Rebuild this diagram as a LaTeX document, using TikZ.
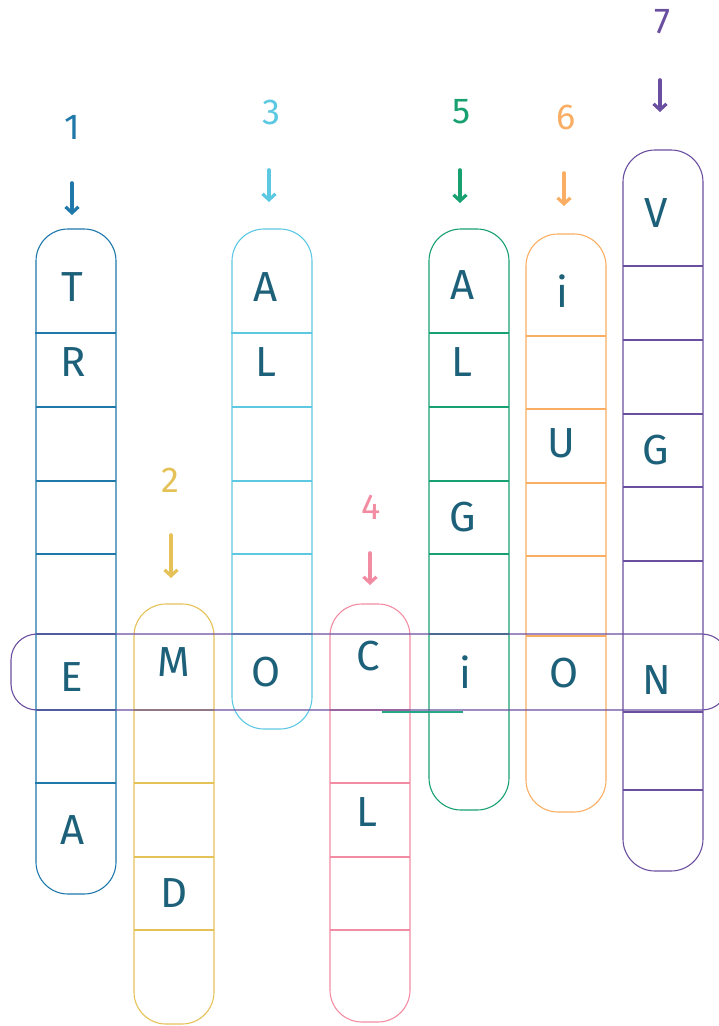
\documentclass[tikz,border=0pt]{standalone}
\usepackage{fontspec}
\newfontfamily\handfont{Fira Sans}
\usepackage{xcolor}
\definecolor{ColBlue}{HTML}{1F78AA}
\definecolor{ColYellow}{HTML}{E5C257}
\definecolor{ColCyan}{HTML}{5CC8E2}
\definecolor{ColPink}{HTML}{F28CA2}
\definecolor{ColGreen}{HTML}{17A070}
\definecolor{ColOrange}{HTML}{F9AE63}
\definecolor{ColPurple}{HTML}{6A4FA0}
\definecolor{LetterTeal}{HTML}{1D6079}
\usetikzlibrary{arrows.meta}

\begin{document}
\begin{tikzpicture}[
    x=1pt, y=-1pt,
    column/.style={draw=#1, line width=1.1pt, rounded corners=32pt,
                   minimum width=80pt, inner sep=0pt},
    cell/.style={draw=#1, line width=1.1pt},
    letter/.style={text=LetterTeal, font=\handfont\fontsize{42}{46}\selectfont},
    num/.style={text=#1, font=\handfont\fontsize{36}{40}\selectfont},
    arr/.style={draw=#1, line width=3.6pt, line cap=round,
                -{Straight Barb[length=6pt, width=13pt, line width=3.2pt]}}
  ]
    \useasboundingbox (0,0) rectangle (718,1026);

    % columns
    \node[column=ColBlue, minimum height=665pt] (col1) at (76,561.5) {};
    \node[column=ColYellow, minimum height=420pt] (col2) at (174,814) {};
    \node[column=ColCyan, minimum height=500pt] (col3) at (272,479) {};
    \node[column=ColPink, minimum height=418pt] (col4) at (370,813) {};
    \node[column=ColGreen, minimum height=581pt] (col5) at (469,519.5) {};
    \node[column=ColOrange, minimum height=578pt] (col6) at (566,523) {};
    \node[column=ColPurple, minimum height=721pt] (col7) at (663,510.5) {};

    % cell dividers
    \draw[cell=ColBlue] (35,333) -- ++(81,0) (36,407) -- ++(80,0) (36,481) -- ++(80,0)
      (36,554) -- ++(80,0) (36,634) -- ++(80,0) (36,710) -- ++(80,0) (35,783) -- ++(81,0);
    \draw[cell=ColYellow] (134,710) -- ++(80,0) (134,783) -- ++(80,0)
      (134,857) -- ++(80,0) (134,930) -- ++(80,0);
    \draw[cell=ColCyan] (231,333) -- ++(81,0) (232,407) -- ++(80,0) (232,481) -- ++(80,0)
      (232,554) -- ++(80,0) (232,634) -- ++(80,0);
    \draw[cell=ColPink] (330,710) -- ++(80,0) (330,783) -- ++(80,0)
      (330,857) -- ++(80,0) (330,930) -- ++(80,0);
    \draw[cell=ColGreen] (429,333) -- ++(80,0) (429,407) -- ++(80,0) (429,481) -- ++(80,0)
      (429,554) -- ++(80,0) (429,634) -- ++(80,0);
    \draw[cell=ColOrange] (526,336) -- ++(80,0) (526,409) -- ++(80,0) (526,483) -- ++(80,0)
      (526,556) -- ++(80,0) (526,636) -- ++(80,0);
    \draw[cell=ColPurple] (623,266) -- ++(80,0) (623,340) -- ++(80,0) (623,414) -- ++(80,0)
      (623,487) -- ++(80,0) (623,561) -- ++(80,0) (623,712) -- ++(80,0) (623,790) -- ++(80,0);

    % across word
    \node[column=ColPurple, rounded corners=26pt, minimum width=717pt,
          minimum height=76pt] (across) at (369.5,672) {};
    \draw[cell=ColGreen!80!ColCyan] (382,712) -- ++(81,0);

    % letters
    \node[letter] (c1a) at (72,287) {T};
    \node[letter] (c1b) at (73,362) {R};
    \node[letter] (c1c) at (72,677) {E};
    \node[letter] (c1d) at (73,830) {A};
    \node[letter] (c2a) at (174,662) {M};
    \node[letter] (c2b) at (174,893) {D};
    \node[letter] (c3a) at (266,287) {A};
    \node[letter] (c3b) at (266,362) {L};
    \node[letter] (c3c) at (266,672) {O};
    \node[letter] (c4a) at (368,656) {C};
    \node[letter] (c4b) at (367,812) {L};
    \node[letter] (c5a) at (463,285) {A};
    \node[letter] (c5b) at (462,362) {L};
    \node[letter] (c5c) at (463,517) {G};
    \node[letter] (c5d) at (465,672) {i};
    \node[letter] (c6a) at (562,291) {i};
    \node[letter] (c6b) at (561,443) {U};
    \node[letter] (c6c) at (564,673) {O};
    \node[letter] (c7a) at (656,213) {V};
    \node[letter] (c7b) at (656,450) {G};
    \node[letter] (c7c) at (657,680) {N};

    % clue numbers
    \node[num=ColBlue] (n1) at (72,127) {1};
    \node[num=ColYellow] (n2) at (170,480) {2};
    \node[num=ColCyan] (n3) at (271,112) {3};
    \node[num=ColPink] (n4) at (371,507) {4};
    \node[num=ColGreen] (n5) at (462,112) {5};
    \node[num=ColOrange] (n6) at (566,117) {6};
    \node[num=ColPurple] (n7) at (662,22) {7};

    \coordinate (a1) at (72,183);  \coordinate (b1) at (72,215);
    \coordinate (a2) at (171,535); \coordinate (b2) at (171,578);
    \coordinate (a3) at (269,170); \coordinate (b3) at (269,202);
    \coordinate (a4) at (370,553); \coordinate (b4) at (370,585);
    \coordinate (a5) at (460,170); \coordinate (b5) at (460,203);
    \coordinate (a6) at (564,173); \coordinate (b6) at (564,206);
    \coordinate (a7) at (660,80);  \coordinate (b7) at (660,112);

    \draw[arr=ColBlue] (a1) -- (b1);
    \draw[arr=ColYellow] (a2) -- (b2);
    \draw[arr=ColCyan] (a3) -- (b3);
    \draw[arr=ColPink] (a4) -- (b4);
    \draw[arr=ColGreen] (a5) -- (b5);
    \draw[arr=ColOrange] (a6) -- (b6);
    \draw[arr=ColPurple] (a7) -- (b7);
  \end{tikzpicture}
\end{document}
